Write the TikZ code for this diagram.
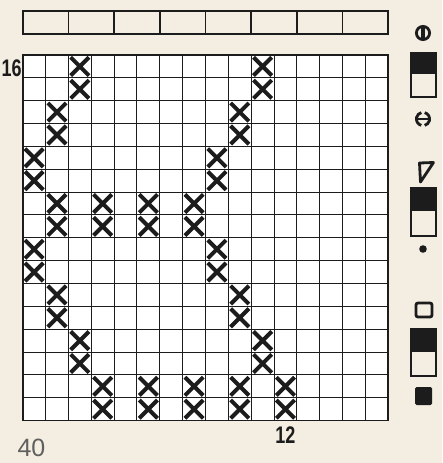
\documentclass[tikz,border=0pt]{standalone}
\usepackage{fontspec}
\usepackage{tikz}
\usetikzlibrary{positioning}
\newfontfamily\chartfont{Liberation Sans}
\definecolor{paper}{RGB}{244,238,226}
\definecolor{ink}{RGB}{28,28,28}
\definecolor{pageGray}{RGB}{95,95,95}
\tikzset{
  gridLine/.style={draw=ink, line width=1pt},
  frameLine/.style={draw=ink, line width=1.7pt},
  crossLine/.style={draw=ink, line width=4pt},
  symbolLine/.style={draw=ink, line width=2.8pt},
  numLabel/.style={font=\fontsize{24}{24}\selectfont\chartfont\bfseries, text=ink, inner sep=0pt, xscale=0.75}
}

\begin{document}
\begin{tikzpicture}[x=1pt, y=-1pt,
    % stitch mark used in the chart cells
    cross/.pic={\draw[crossLine] (-0.4,-0.4) -- (0.4,0.4) (-0.4,0.4) -- (0.4,-0.4);},
    pageNum/.style={font=\fontsize{25}{25}\selectfont\chartfont, text=pageGray, inner sep=0pt}
]
\fill[paper] (0,0) rectangle (442,463);

% --- Chart (cell units) ---
\begin{scope}[shift={(22.7pt,-55pt)}, x=22.85pt, y=-22.85pt]
  % top bar of eight boxes
  \draw[frameLine] (0,-1.94) rectangle (16,-0.92);
  \foreach \i in {2,4,...,14} {
      \draw[frameLine] (\i,-1.94) -- (\i,-0.92);
  }

  % grid
  \fill[white] (0,0) rectangle (16,16);
  \foreach \i in {1,...,15} {
      \draw[gridLine] (\i,0) -- (\i,16);
      \draw[gridLine] (0,\i) -- (16,\i);
  }
  \draw[frameLine] (0,0) rectangle (16,16);

  % crossed cells, row by row from the top
  \foreach \r/\cols in {1/{3,11}, 2/{3,11}, 3/{2,10}, 4/{2,10}, 5/{1,9}, 6/{1,9},
      7/{2,4,6,8}, 8/{2,4,6,8}, 9/{1,9}, 10/{1,9}, 11/{2,10}, 12/{2,10},
      13/{3,11}, 14/{3,11}, 15/{4,6,8,10,12}, 16/{4,6,8,10,12}} {
      \foreach \c in \cols {
          \pic at (\c-0.5,\r-0.5) {cross};
      }
  }

  \node[numLabel, anchor=east] (rowCount) at (-0.04,0.59) {16};
  \node[numLabel] (stitchCount) at (11.5,16.62) {12};
\end{scope}

\node[pageNum] (pageNumber) at (31.5,448) {40};

% --- Key symbols ---
\draw[symbolLine] (423,33) circle (6.6);
\draw[symbolLine, line width=3.4pt] (423,26) -- (423,40);

\foreach \top/\bot in {53/97, 188/236, 329/376} {
    \fill[ink] (411,\top) rectangle (436,{(\top+\bot)/2-1});
    \draw[symbolLine] (411,\top) rectangle (436,\bot);
}

\draw[symbolLine] ([shift={(105:6.6)}]423,119) arc (105:255:6.6);
\draw[symbolLine] ([shift={(-75:6.6)}]423,119) arc (-75:75:6.6);
\draw[symbolLine] (417,119) -- (429,119);

\draw[symbolLine, line join=round] (419.5,163) -- (433.5,162.5) -- (420.5,182) -- cycle;
\fill[ink] (423,249) circle (3.8);

\draw[symbolLine, rounded corners=2pt] (416,303) rectangle (432,317);
\fill[ink, rounded corners=1.5pt] (415,387) rectangle (432,405);

\end{tikzpicture}
\end{document}
